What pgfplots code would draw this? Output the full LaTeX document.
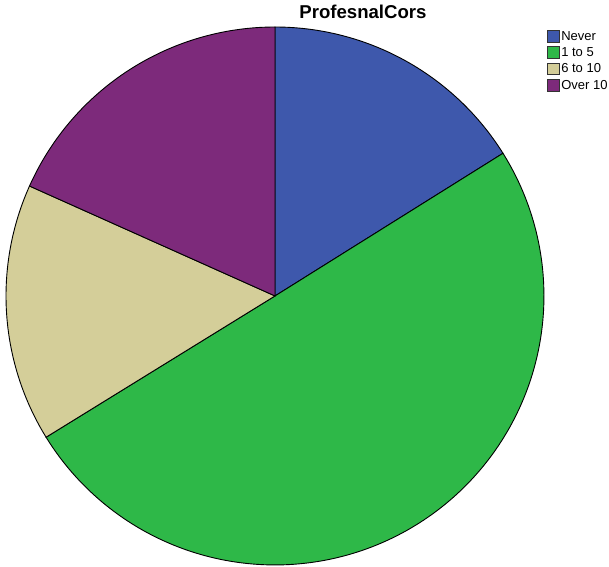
\documentclass[border=0pt]{standalone}
\usepackage{pgfplots}
\usepackage{pgfplotstable}
\usepackage{fontspec}
\setmainfont{Liberation Sans}
\pgfplotsset{compat=1.18}

\definecolor{cNever}{HTML}{3E58AC}
\definecolor{cOneFive}{HTML}{2EB848}
\definecolor{cSixTen}{HTML}{D4CE99}
\definecolor{cOverTen}{HTML}{7D2A7B}

% share of respondents per answer (percent)
\pgfplotstableread{
cat      pct
Never    16.1
1to5     50.1
6to10    15.5
Over10   18.3
}\piedata

\pgfplotstablegetelem{0}{pct}\of\piedata \let\vA\pgfplotsretval
\pgfplotstablegetelem{1}{pct}\of\piedata \let\vB\pgfplotsretval
\pgfplotstablegetelem{2}{pct}\of\piedata \let\vC\pgfplotsretval
\pgfplotstablegetelem{3}{pct}\of\piedata \let\vD\pgfplotsretval

% slice boundaries, clockwise from twelve o'clock
\pgfmathsetmacro\aO{90}
\pgfmathsetmacro\aA{\aO-3.6*\vA}
\pgfmathsetmacro\aB{\aA-3.6*\vB}
\pgfmathsetmacro\aC{\aB-3.6*\vC}
\pgfmathsetmacro\aD{\aC-3.6*\vD}

\newcommand\cx{275}
\newcommand\cy{271}
\newcommand\rr{269}

\begin{document}
\begin{tikzpicture}
\begin{axis}[
  scale only axis, width=609pt, height=567pt,
  xmin=0, xmax=609, ymin=0, ymax=567,
  axis lines=none, clip=false,
  legend style={at={(axis cs:547,538)}, anchor=north west, draw=none, fill=none,
    inner sep=0pt, row sep=1.8pt, font=\fontsize{13}{15}\selectfont,
    nodes={inner xsep=1.5pt}, cells={anchor=west}},
  legend image code/.code={\draw[#1,line width=0.6pt,draw=black!80] (0pt,-5.5pt) rectangle (12pt,6pt);},
]
\path (axis cs:0,0) rectangle (axis cs:609,567);
\addplot[fill=cNever, draw=black, line width=0.9pt, domain=\aA:\aO, samples=80, variable=\t]
  ({\cx+\rr*cos(\t)},{\cy+\rr*sin(\t)}) -- (axis cs:\cx,\cy) -- cycle;
\addlegendentry{Never}
\addplot[fill=cOneFive, draw=black, line width=0.9pt, domain=\aB:\aA, samples=160, variable=\t]
  ({\cx+\rr*cos(\t)},{\cy+\rr*sin(\t)}) -- (axis cs:\cx,\cy) -- cycle;
\addlegendentry{1 to 5}
\addplot[fill=cSixTen, draw=black, line width=0.9pt, domain=\aC:\aB, samples=80, variable=\t]
  ({\cx+\rr*cos(\t)},{\cy+\rr*sin(\t)}) -- (axis cs:\cx,\cy) -- cycle;
\addlegendentry{6 to 10}
\addplot[fill=cOverTen, draw=black, line width=0.9pt, domain=\aD:\aC, samples=80, variable=\t]
  ({\cx+\rr*cos(\t)},{\cy+\rr*sin(\t)}) -- (axis cs:\cx,\cy) -- cycle;
\addlegendentry{Over 10}
\node[font=\fontsize{18.6}{21}\selectfont\bfseries] at (axis cs:363,555) {ProfesnalCors};
\end{axis}
\end{tikzpicture}
\end{document}
